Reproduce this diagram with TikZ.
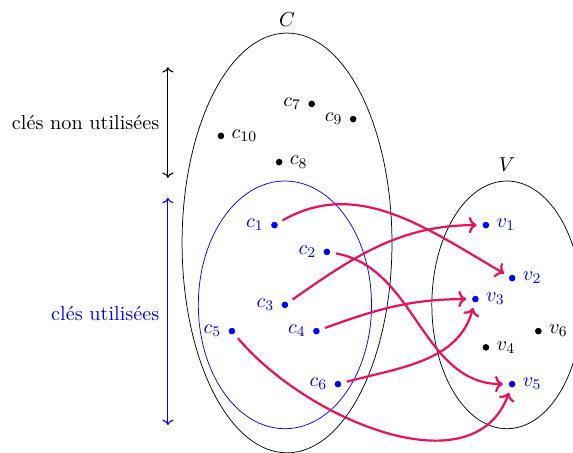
\documentclass[tikz,border=0pt,11pt]{standalone}
\usepackage{amsmath,amssymb}
\usepackage{tikz}
\usetikzlibrary{arrows.meta,positioning,calc}
\definecolor{Fleche}{RGB}{232,18,90}
\definecolor{Bleu}{RGB}{0,0,255}
\tikzset{
  cle/.style={circle,fill=black,inner sep=0pt,minimum size=3.6pt},
  cleutil/.style={circle,fill=Bleu,inner sep=0pt,minimum size=3.6pt},
  assoc/.style={->,very thick,draw=Fleche,shorten >=3pt,shorten <=3pt},
  borne/.style={<->,semithick}
}

\begin{document}
\begin{tikzpicture}[x=1cm,y=1cm]
\useasboundingbox (-5.47,-4) rectangle (5.45,4.63);

% ensembles
\draw (0,0) ellipse (2 and 4);
\draw[Bleu] (-0.04,-1.18) ellipse (1.65 and 2.36);
\draw (4.19,-1.18) ellipse (1.43 and 2.36);
\node (C) at (0,4.25) {$C$};
\node (V) at (4.19,1.49) {$V$};

% cles non utilisees
\node[cle,label={left:$c_7$}] (c7) at (0.47,2.65) {};
\node[cle,label={left:$c_9$}] (c9) at (1.26,2.36) {};
\node[cle,label={right:$c_{10}$}] (c10) at (-1.26,2.04) {};
\node[cle,label={right:$c_8$}] (c8) at (-0.15,1.54) {};

% cles utilisees
\node[cleutil,label={[Bleu]left:$c_1$}] (c1) at (-0.24,0.34) {};
\node[cleutil,label={[Bleu]left:$c_2$}] (c2) at (0.76,-0.17) {};
\node[cleutil,label={[Bleu]left:$c_3$}] (c3) at (-0.04,-1.18) {};
\node[cleutil,label={[Bleu]left:$c_4$}] (c4) at (0.56,-1.68) {};
\node[cleutil,label={[Bleu]left:$c_5$}] (c5) at (-1.05,-1.68) {};
\node[cleutil,label={[Bleu]left:$c_6$}] (c6) at (0.97,-2.69) {};

% valeurs
\node[cleutil,label={[Bleu]right:$v_1$}] (v1) at (3.79,0.34) {};
\node[cleutil,label={[Bleu]right:$v_2$}] (v2) at (4.29,-0.67) {};
\node[cleutil,label={[Bleu]right:$v_3$}] (v3) at (3.59,-1.07) {};
\node[cle,label={right:$v_4$}] (v4) at (3.79,-1.99) {};
\node[cleutil,label={[Bleu]right:$v_5$}] (v5) at (4.29,-2.69) {};
\node[cle,label={right:$v_6$}] (v6) at (4.79,-1.68) {};

\draw[assoc] (c1) to[out=30,in=150] (v2);
\draw[assoc] (c2) to[out=-10,in=180] (v5);
\draw[assoc] (c3) to[out=35,in=180] (v1);
\draw[assoc] (c4) to[out=20,in=180] (v3);
\draw[assoc] (c5) to[out=-50,in=-110] (v5);
\draw[assoc] (c6) to[out=15,in=-105] (v3);

% accolades
\coordinate (n1) at (-2.27,3.35);
\coordinate (n2) at (-2.27,1.24);
\coordinate (u1) at (-2.27,0.86);
\coordinate (u2) at (-2.27,-3.47);
\draw[borne] (n1) -- (n2);
\draw[borne,Bleu] (u1) -- (u2);
\node[anchor=east] (nonutil) at (-2.3,2.29) {clés non utilisées};
\node[anchor=east,text=Bleu] (util) at (-2.3,-1.35) {clés utilisées};
\end{tikzpicture}
\end{document}
